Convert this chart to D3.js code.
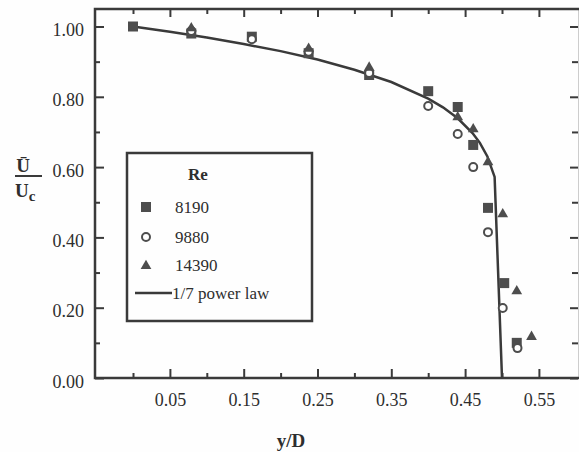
<!DOCTYPE html>
<html>
<head>
<meta charset="utf-8">
<script src="https://cdn.jsdelivr.net/npm/d3@7"></script>
<style>
  body { margin: 0; background: #fff; }
  svg { display: block; }
  svg text { font-family: 'Liberation Serif', serif !important; fill: #2e2e2e; }
</style>
</head>
<body>
<div id="chart"></div>
<script>
// y/D positions and U/Uc values
const re8190X  = [0.00, 0.079, 0.161, 0.238, 0.320, 0.400, 0.440, 0.461, 0.481, 0.503, 0.520];
const re8190Y  = [1.00, 0.980, 0.971, 0.924, 0.862, 0.816, 0.771, 0.663, 0.484, 0.270, 0.100];
const re9880X  = [0.079, 0.161, 0.238, 0.320, 0.400, 0.440, 0.461, 0.481, 0.501, 0.521];
const re9880Y  = [0.987, 0.964, 0.928, 0.868, 0.774, 0.694, 0.600, 0.415, 0.199, 0.085];
const re14390X = [0.079, 0.238, 0.320, 0.440, 0.461, 0.481, 0.501, 0.520, 0.540];
const re14390Y = [0.998, 0.940, 0.886, 0.745, 0.711, 0.617, 0.469, 0.250, 0.120];

// 1/7 power law curve as drawn
const lawX = [0, 0.05, 0.10, 0.15, 0.20, 0.25, 0.30, 0.35, 0.40, 0.42, 0.44, 0.46, 0.47, 0.48, 0.49, 0.50];
const lawY = [1, 0.985, 0.969, 0.950, 0.930, 0.906, 0.877, 0.842, 0.795, 0.770, 0.739, 0.697, 0.669, 0.631, 0.572, 0];

const xMajor = [0.05, 0.15, 0.25, 0.35, 0.45, 0.55];
const xMinor = [0.0, 0.1, 0.2, 0.3, 0.4, 0.5];
const yMajor = [0.0, 0.2, 0.4, 0.6, 0.8, 1.0];
const yMinor = [0.1, 0.3, 0.5, 0.7, 0.9];

const legendLabels = ["8190", "9880", "14390"];

const W = 579, H = 452;
const ink = "#3a3a3a";
const serif = "'Liberation Serif', serif";
const frame = {left: 95, right: 580, top: 9, bottom: 378};

const x = d3.scaleLinear().domain([0, 0.5]).range([133, 502]);
const y = d3.scaleLinear().domain([0, 1]).range([378, 26.5]);

const svg = d3.select("#chart").append("svg")
    .attr("width", W)
    .attr("height", H)
    .attr("font-family", serif);

svg.append("rect").attr("width", W).attr("height", H).attr("fill", "#fefefe");

const fmt = d3.format(".2f");

// inward ticks on all four sides
function styleAxis(g) {
    g.attr("font-family", serif).attr("font-size", 18);
    g.select(".domain").remove();
    g.selectAll(".tick line").attr("stroke", ink).attr("stroke-width", 2);
    g.selectAll(".tick text").attr("fill", "#2e2e2e");
}

svg.append("g").attr("transform", `translate(0,${frame.bottom})`)
    .call(d3.axisBottom(x).tickValues(xMajor).tickSize(-9).tickPadding(15).tickFormat(fmt))
    .call(styleAxis);
svg.append("g").attr("transform", `translate(0,${frame.bottom})`)
    .call(d3.axisBottom(x).tickValues(xMinor).tickSize(-5).tickFormat(""))
    .call(styleAxis);
svg.append("g").attr("transform", `translate(0,${frame.top})`)
    .call(d3.axisTop(x).tickValues(xMajor).tickSize(-8).tickFormat(""))
    .call(styleAxis);
svg.append("g").attr("transform", `translate(0,${frame.top})`)
    .call(d3.axisTop(x).tickValues(xMinor).tickSize(-5).tickFormat(""))
    .call(styleAxis);

svg.append("g").attr("transform", `translate(${frame.left},0)`)
    .call(d3.axisLeft(y).tickValues(yMajor).tickSize(-9).tickPadding(11).tickFormat(fmt))
    .call(styleAxis)
    .selectAll(".tick text").attr("dy", "0.5em");
svg.append("g").attr("transform", `translate(${frame.left},0)`)
    .call(d3.axisLeft(y).tickValues(yMinor).tickSize(-5).tickFormat(""))
    .call(styleAxis);
svg.append("g").attr("transform", `translate(${frame.right - 2},0)`)
    .call(d3.axisRight(y).tickValues(yMajor).tickSize(-8).tickFormat(""))
    .call(styleAxis);
svg.append("g").attr("transform", `translate(${frame.right - 2},0)`)
    .call(d3.axisRight(y).tickValues(yMinor).tickSize(-6).tickFormat(""))
    .call(styleAxis);

// frame
svg.append("rect")
    .attr("x", frame.left).attr("y", frame.top)
    .attr("width", frame.right - frame.left).attr("height", frame.bottom - frame.top)
    .attr("fill", "none").attr("stroke", ink).attr("stroke-width", 2.5);

// power law curve
const law = lawX.map((v, i) => [v, lawY[i]]);
svg.append("path")
    .datum(law)
    .attr("fill", "none")
    .attr("stroke", ink)
    .attr("stroke-width", 2.5)
    .attr("d", d3.line().x(d => x(d[0])).y(d => y(d[1])));

const markFill = "#4d4d4d";
const sqSym = d3.symbol().type(d3.symbolSquare).size(100);
const triSym = d3.symbol().type(d3.symbolTriangle).size(50);

function zipPts(xs, ys) { return xs.map((v, i) => [v, ys[i]]); }

svg.append("g").selectAll("path")
    .data(zipPts(re8190X, re8190Y))
    .join("path")
    .attr("transform", d => `translate(${x(d[0])},${y(d[1])})`)
    .attr("d", sqSym)
    .attr("fill", markFill);

svg.append("g").selectAll("circle")
    .data(zipPts(re9880X, re9880Y))
    .join("circle")
    .attr("cx", d => x(d[0]))
    .attr("cy", d => y(d[1]))
    .attr("r", 4)
    .attr("fill", "#fff")
    .attr("stroke", markFill)
    .attr("stroke-width", 2);

svg.append("g").selectAll("path")
    .data(zipPts(re14390X, re14390Y))
    .join("path")
    .attr("transform", d => `translate(${x(d[0])},${y(d[1]) + 1})`)
    .attr("d", triSym)
    .attr("fill", markFill);

// legend
const lg = svg.append("g").attr("font-family", serif).attr("font-size", 17);
lg.append("rect")
    .attr("x", 127).attr("y", 153).attr("width", 185).attr("height", 168)
    .attr("fill", "#fefefe").attr("stroke", ink).attr("stroke-width", 2.5);
lg.append("text").attr("x", 198).attr("y", 180).attr("text-anchor", "middle")
    .attr("font-weight", "bold").text("Re");

const rowY = [207, 237, 265];
lg.append("path").attr("transform", `translate(146,${rowY[0]})`).attr("d", sqSym).attr("fill", markFill);
lg.append("circle").attr("cx", 146).attr("cy", rowY[1]).attr("r", 4)
    .attr("fill", "#fff").attr("stroke", markFill).attr("stroke-width", 2);
lg.append("path").attr("transform", `translate(146,${rowY[2] + 1})`).attr("d", triSym).attr("fill", markFill);

lg.selectAll("text.lab")
    .data(legendLabels)
    .join("text")
    .attr("class", "lab")
    .attr("x", 175)
    .attr("y", (d, i) => rowY[i] + 6)
    .text(d => d);

lg.append("line").attr("x1", 135).attr("x2", 172).attr("y1", 293).attr("y2", 293)
    .attr("stroke", ink).attr("stroke-width", 2.5);
lg.append("text").attr("x", 172).attr("y", 299).text("1/7 power law");

// axis titles
svg.append("text").attr("x", 291).attr("y", 447).attr("text-anchor", "middle")
    .attr("font-size", 19).attr("font-weight", "bold").text("y/D");

const yt = svg.append("g").attr("font-size", 19).attr("font-weight", "bold");
yt.append("text").attr("x", 23).attr("y", 172).attr("text-anchor", "middle").text("Ū");
yt.append("line").attr("x1", 15).attr("x2", 42).attr("y1", 176).attr("y2", 176)
    .attr("stroke", ink).attr("stroke-width", 2);
const uc = yt.append("text").attr("x", 15).attr("y", 197);
uc.append("tspan").text("U");
uc.append("tspan").attr("dy", 4).attr("font-size", 15).text("c");
</script>
</body>
</html>
